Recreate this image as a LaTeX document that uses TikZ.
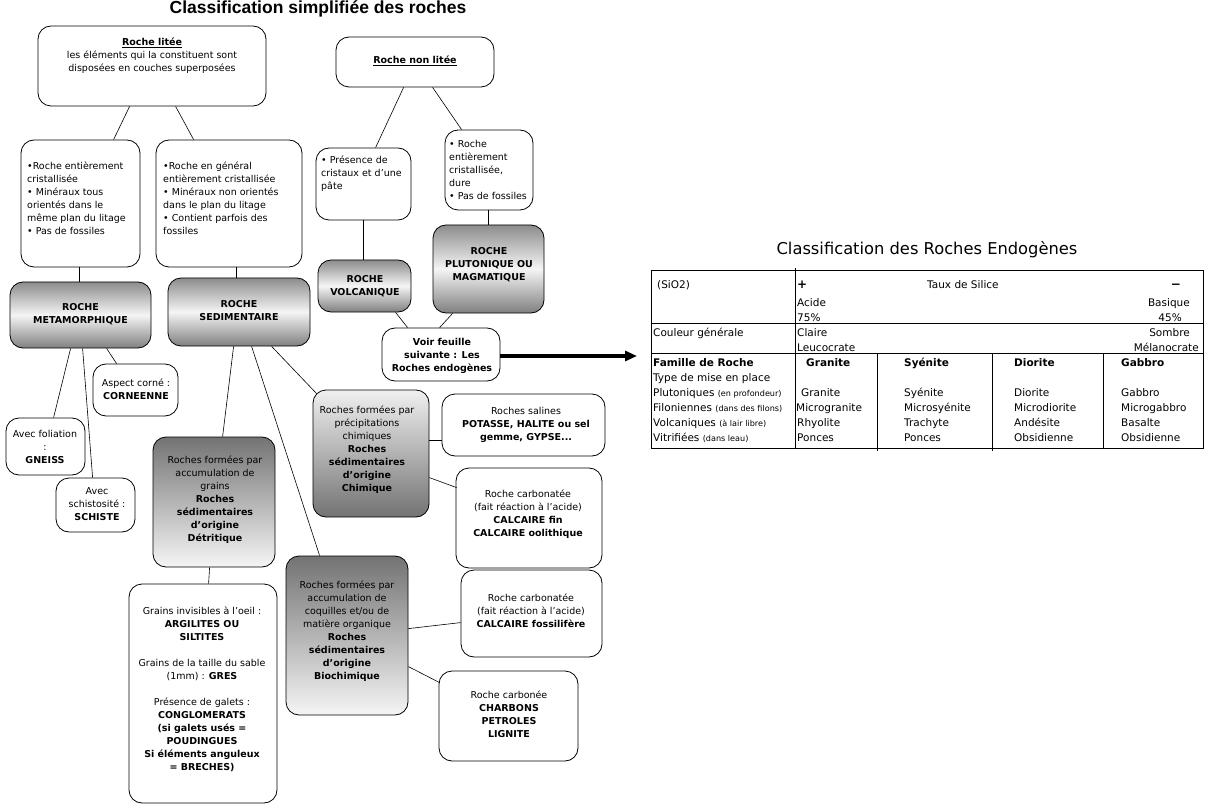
\documentclass[tikz,border=0pt]{standalone}
\usepackage{fontspec}
\setmainfont{DejaVu Sans}
\newfontfamily\titlefont{Liberation Sans}
\usetikzlibrary{calc,arrows.meta}
\newcommand{\sm}{\fontsize{8.1}{9}\selectfont}
\begin{document}
\begin{tikzpicture}[x=1pt,y=-1pt,
  box/.style={draw, line width=0.8pt, rounded corners=13pt, fill=white, inner sep=0pt},
  hshade/.style={box, top color=black!45, bottom color=black!50, middle color=black!4},
  vshade/.style={box, top color=black!6, bottom color=black!55},
  dshade/.style={box, shading angle=45, top color=black!55, bottom color=black!4},
  txt/.style={inner sep=0pt, align=center, font=\fontsize{9.5}{13}\selectfont},
  ltxt/.style={txt, align=left, anchor=west},
  conn/.style={line width=0.6pt},
  tline/.style={line width=0.8pt},
  tt/.style={inner sep=0pt, anchor=base west, font=\fontsize{10.5}{12}\selectfont},
  tr/.style={tt, anchor=base east}
]
\fill[white] (0,0) rectangle (1207,810);
\useasboundingbox (0,0) rectangle (1207,810);

% title
\node[inner sep=0pt, anchor=base, font=\titlefont\bfseries\fontsize{17.5}{20}\selectfont] (title) at (318,14) {Classification simplifiée des roches};

% boxes
\node[box, minimum width=228, minimum height=80] (litee) at (152,66) {};
\node[box, minimum width=158, minimum height=50] (nonlitee) at (415,62) {};
\node[box, minimum width=119, minimum height=127] (b1) at (80.5,203.5) {};
\node[box, minimum width=146, minimum height=127] (b2) at (229,203.5) {};
\node[box, minimum width=95, minimum height=72] (pres) at (363.5,184) {};
\node[box, minimum width=88, minimum height=80] (crist) at (489,170) {};
\node[hshade, minimum width=141, minimum height=66] (meta) at (80.5,315) {};
\node[hshade, minimum width=142, minimum height=68] (sedi) at (239,312) {};
\node[hshade, minimum width=93, minimum height=52] (volc) at (364.5,286) {};
\node[hshade, minimum width=111, minimum height=88] (pluto) at (488.5,269) {};
\node[box, minimum width=118, minimum height=53] (voir) at (441,354.5) {};
\node[box, minimum width=85, minimum height=52] (corne) at (135.5,390) {};
\node[box, minimum width=79, minimum height=57] (foli) at (45.5,446.5) {};
\node[box, minimum width=79, minimum height=54] (schis) at (95.5,505) {};
\node[vshade, minimum width=116, minimum height=127] (chim) at (371,453.5) {};
\node[box, minimum width=163, minimum height=62] (salin) at (523.5,425) {};
\node[box, minimum width=146, minimum height=100] (carb1) at (529,518) {};
\node[dshade, minimum width=122, minimum height=130] (grains) at (214,502) {};
\node[box, minimum width=148, minimum height=219] (ginv) at (203,693.5) {};
\node[dshade, minimum width=122, minimum height=159] (bio) at (347,635.5) {};
\node[box, minimum width=141, minimum height=87] (carb2) at (531.5,613.5) {};
\node[box, minimum width=139, minimum height=90] (carbn) at (508.5,716) {};

% texts
\node[txt] (litee-t) at (152,55.5) {\textbf{\underline{Roche litée}}\\les éléments qui la constituent sont\\disposées en couches superposées};
\node[txt] (nonlitee-t) at (415,61) {\textbf{\underline{Roche non litée}}};
\node[ltxt] (b1-t) at (27,198.5) {•Roche entièrement\\cristallisée\\• Minéraux tous\\orientés dans le\\même plan du litage\\• Pas de fossiles};
\node[ltxt] (b2-t) at (163,198.5) {•Roche en général\\entièrement cristallisée\\• Minéraux non orientés\\dans le plan du litage\\• Contient parfois des\\fossiles};
\node[ltxt] (pres-t) at (321,174) {• Présence de\\cristaux et d’une\\pâte};
\node[ltxt] (crist-t) at (449,169.5) {• Roche\\entièrement\\cristallisée,\\dure\\• Pas de fossiles};
\node[txt, font=\bfseries\fontsize{9.5}{13}\selectfont] (meta-t) at (80.5,314) {ROCHE\\METAMORPHIQUE};
\node[txt, font=\bfseries\fontsize{9.5}{13}\selectfont] (sedi-t) at (239,310.5) {ROCHE\\SEDIMENTAIRE};
\node[txt, font=\bfseries\fontsize{9.5}{13}\selectfont] (volc-t) at (365,286.5) {ROCHE\\VOLCANIQUE};
\node[txt, font=\bfseries\fontsize{9.5}{13}\selectfont] (pluto-t) at (489,265) {ROCHE\\PLUTONIQUE OU\\MAGMATIQUE};
\node[txt, font=\bfseries\fontsize{9.5}{13}\selectfont] (voir-t) at (442,355.5) {Voir feuille\\suivante : Les\\Roches endogènes};
\node[txt] (corne-t) at (136,389.5) {Aspect corné :\\\textbf{CORNEENNE}};
\node[txt] (foli-t) at (45,447) {Avec foliation\\:\\\textbf{GNEISS}};
\node[txt] (schis-t) at (97,504) {Avec\\schistosité :\\\textbf{SCHISTE}};
\node[txt] (chim-t) at (367,450) {Roches formées par\\précipitations\\chimiques\\\textbf{Roches}\\\textbf{sédimentaires}\\\textbf{d’origine}\\\textbf{Chimique}};
\node[txt] (salin-t) at (526,424.5) {Roches salines\\\textbf{POTASSE, HALITE ou sel}\\\textbf{gemme, GYPSE...}};
\node[txt] (carb1-t) at (528,514.5) {Roche carbonatée\\(fait réaction à l’acide)\\\textbf{CALCAIRE fin}\\\textbf{CALCAIRE oolithique}};
\node[txt] (grains-t) at (215,499.5) {Roches formées par\\accumulation de\\grains\\\textbf{Roches}\\\textbf{sédimentaires}\\\textbf{d’origine}\\\textbf{Détritique}};
\node[txt] (ginv-t) at (202,689) {Grains invisibles à l’oeil :\\\textbf{ARGILITES OU}\\\textbf{SILTITES}\\[13pt]Grains de la taille du sable\\(1mm) : \textbf{GRES}\\[13pt]Présence de galets :\\\textbf{CONGLOMERATS}\\\textbf{(si galets usés =}\\\textbf{POUDINGUES}\\\textbf{Si éléments anguleux}\\\textbf{= BRECHES)}};
\node[txt] (bio-t) at (347,631.5) {Roches formées par\\accumulation de\\coquilles et/ou de\\matière organique\\\textbf{Roches}\\\textbf{sédimentaires}\\\textbf{d’origine}\\\textbf{Biochimique}};
\node[txt] (carb2-t) at (531,611) {Roche carbonatée\\(fait réaction à l’acide)\\\textbf{CALCAIRE fossilifère}};
\node[txt] (carbn-t) at (509,714.5) {Roche carbonée\\\textbf{CHARBONS}\\\textbf{PETROLES}\\\textbf{LIGNITE}};

% connectors
\draw[conn] ($(litee.south west)+(92,0)$) -- ($(b1.north west)+(93,0)$);
\draw[conn] ($(litee.south west)+(138,0)$) -- ($(b2.north west)+(38,0)$);
\draw[conn] ($(nonlitee.south west)+(68,0)$) -- ($(pres.north west)+(60,0)$);
\draw[conn] ($(nonlitee.south west)+(97,0)$) -- ($(crist.north west)+(17,0)$);
\draw[conn] ($(b1.south west)+(59,0)$) -- ($(meta.north west)+(70,0)$);
\draw[conn] ($(b2.south west)+(81,0)$) -- ($(sedi.north west)+(69,0)$);
\draw[conn] ($(pres.south west)+(48,0)$) -- ($(volc.north west)+(46,0)$);
\draw[conn] ($(crist.south west)+(44,0)$) -- ($(pluto.north west)+(56,0)$);
\draw[conn] ($(volc.south west)+(78,0)$) -- ($(voir.north west)+(26,0)$);
\draw[conn] ($(pluto.south west)+(20,0)$) -- ($(voir.north west)+(58,0)$);
\draw[conn] ($(meta.south west)+(61,0)$) -- ($(foli.north west)+(48,0)$);
\draw[conn] ($(meta.south west)+(73,0)$) -- ($(schis.north west)+(37,0)$);
\draw[conn] ($(meta.south west)+(97,0)$) -- ($(corne.north west)+(24,0)$);
\draw[conn] ($(sedi.south west)+(66,0)$) -- ($(grains.north west)+(70,0)$);
\draw[conn] ($(sedi.south west)+(84,0)$) -- ($(bio.north west)+(34,0)$);
\draw[conn] ($(sedi.south west)+(104,0)$) -- ($(chim.north west)+(4,4)$);
\draw[conn] ($(chim.north east)+(0,51)$) -- ($(salin.north west)+(0,47)$);
\draw[conn] ($(chim.north east)+(0,88)$) -- ($(carb1.north west)+(1,20)$);
\draw[conn] ($(grains.south west)+(57,0)$) -- ($(ginv.north west)+(80,0)$);
\draw[conn] ($(bio.north east)+(0,73)$) -- ($(carb2.north west)+(0,53)$);
\draw[conn] ($(bio.north east)+(0,111)$) -- ($(carbn.north west)+(1,12)$);

% arrow
\coordinate (arrowend) at (637,356);
\draw[line width=3.8pt, -{Triangle[length=12pt,width=10pt]}] ($(voir.east)+(0,1.5)$) -- (arrowend);

% table
\node[inner sep=0pt, anchor=base, font=\fontsize{16.3}{18}\selectfont] (ttitle) at (927,255) {Classification des Roches Endogènes};
\draw[tline] (651,270) rectangle (1203,448);
\draw[tline] (795,268) -- (795,448);
\draw[tline] (651,323) -- (1203,323);
\draw[tline] (651,353) -- (1203,353);
\draw[tline] (877,353) -- (877,451);
\draw[tline] (992,353) -- (992,451);
\draw[tline] (1103,353) -- (1103,448);

\node[tt] (r1a) at (657,289) {(SiO2)};
\node[tt, font=\bfseries\fontsize{12}{12}\selectfont] (r1b) at (797,289) {+};
\node[tt] (r1c) at (927,289) {Taux de Silice};
\node[tt, anchor=base, font=\bfseries\fontsize{12}{12}\selectfont] (r1d) at (1176,288) {−};
\node[tt] (r2a) at (797,306) {Acide};
\node[tr] (r2b) at (1190,306) {Basique};
\node[tt] (r3a) at (797,321) {75\%};
\node[tr] (r3b) at (1182,321) {45\%};
\node[tt] (r4a) at (653,336) {Couleur générale};
\node[tt] (r4b) at (797,336) {Claire};
\node[tr] (r4c) at (1190,336) {Sombre};
\node[tt] (r5a) at (797,351) {Leucocrate};
\node[tr] (r5b) at (1199,351) {Mélanocrate};
\node[tt] (r6a) at (653,366) {\textbf{Famille de Roche}};
\node[tt] (r6b) at (806,366) {\textbf{Granite}};
\node[tt] (r6c) at (904,366) {\textbf{Syénite}};
\node[tt] (r6d) at (1014,366) {\textbf{Diorite}};
\node[tt] (r6e) at (1121,366) {\textbf{Gabbro}};
\node[tt] (r7a) at (653,381) {Type de mise en place};
\node[tt] (r8a) at (653,396) {Plutoniques {\sm (en profondeur)}};
\node[tt] (r8b) at (801,396) {Granite};
\node[tt] (r8c) at (904,396) {Syénite};
\node[tt] (r8d) at (1014,396) {Diorite};
\node[tt] (r8e) at (1121,396) {Gabbro};
\node[tt] (r9a) at (653,411) {Filoniennes {\sm (dans des filons)}};
\node[tt] (r9b) at (796,411) {Microgranite};
\node[tt] (r9c) at (904,411) {Microsyénite};
\node[tt] (r9d) at (1014,411) {Microdiorite};
\node[tt] (r9e) at (1121,411) {Microgabbro};
\node[tt] (r10a) at (653,426) {Volcaniques {\sm (à lair libre)}};
\node[tt] (r10b) at (797,426) {Rhyolite};
\node[tt] (r10c) at (904,426) {Trachyte};
\node[tt] (r10d) at (1014,426) {Andésite};
\node[tt] (r10e) at (1121,426) {Basalte};
\node[tt] (r11a) at (653,441) {Vitrifiées {\sm (dans leau)}};
\node[tt] (r11b) at (797,441) {Ponces};
\node[tt] (r11c) at (904,441) {Ponces};
\node[tt] (r11d) at (1014,441) {Obsidienne};
\node[tt] (r11e) at (1121,441) {Obsidienne};
\end{tikzpicture}
\end{document}
